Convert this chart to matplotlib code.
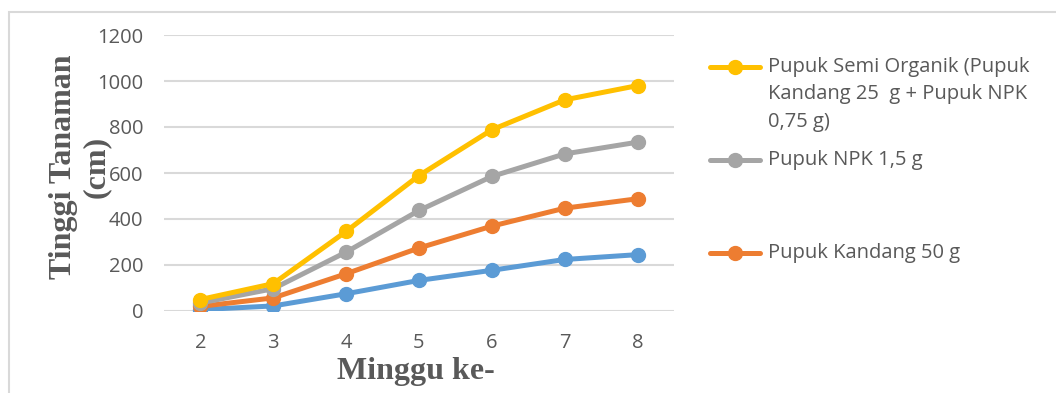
import matplotlib
matplotlib.use("Agg")
import matplotlib.pyplot as plt
from matplotlib.lines import Line2D
from matplotlib.patches import Rectangle

weeks = [2, 3, 4, 5, 6, 7, 8]
semi_organik = [50, 119, 346, 589, 788, 918, 980]
npk = [35, 97, 256, 437, 585, 683, 734]
kandang = [20, 57, 162, 274, 369, 447, 488]
kontrol = [6, 22, 75, 133, 177, 224, 245]

labels = ["Pupuk Semi Organik (Pupuk\nKandang 25  g + Pupuk NPK\n0,75 g)",
          "Pupuk NPK 1,5 g",
          "Pupuk Kandang 50 g"]
yticks = [0, 200, 400, 600, 800, 1000, 1200]

c_yellow = "#FFC000"
c_gray = "#A5A5A5"
c_orange = "#ED7D31"
c_blue = "#5B9BD5"
txt = "#595959"
sans = ["Open Sans", "DejaVu Sans"]

W, H = 1056, 393
fig = plt.figure(figsize=(W / 100, H / 100), dpi=100)

# light frame of the chart area
fig.patches.append(Rectangle((9 / W, -0.1), 1.2, 1 - 12 / H + 0.1, transform=fig.transFigure,
                             fill=False, edgecolor="#D9D9D9", linewidth=1.5))

ax = fig.add_axes([164 / W, 82 / H, 510 / W, 276 / H])
series = [(kontrol, c_blue), (kandang, c_orange), (npk, c_gray), (semi_organik, c_yellow)]
for vals, col in series:
    ax.plot(weeks, vals, color=col, linewidth=3.6, marker="o", markersize=10,
            solid_capstyle="round", zorder=3)

ax.set_xlim(1.5, 8.5)
ax.set_ylim(0, 1200)
ax.set_yticks(yticks)
ax.set_xticks(weeks)
ax.grid(axis="y", color="#D9D9D9", linewidth=1.5, zorder=0)
for s in ax.spines.values():
    s.set_visible(False)
ax.tick_params(length=0, labelcolor=txt, labelsize=14.5)
ax.tick_params(axis="y", pad=15)
ax.tick_params(axis="x", pad=16)
for lab in ax.get_xticklabels() + ax.get_yticklabels():
    lab.set_family(sans)

fig.text(416 / W, 1 - 371 / H, "Minggu ke-", ha="center", va="center",
         fontsize=23, fontweight="bold", family="Liberation Serif", color=txt)
fig.text(80 / W, 1 - 167 / H, "Tinggi Tanaman\n(cm)", ha="center", va="center",
         rotation=90, multialignment="center", fontsize=23, fontweight="bold",
         family="Liberation Serif", color=txt, linespacing=1.2)

# legend (blue series has no entry in the original)
leg_rows = [67, 160, 253]
for lab, (vals, col), yy in zip(labels, [series[3], series[2], series[1]], leg_rows):
    yf = 1 - yy / H
    fig.add_artist(Line2D([710 / W, 760 / W], [yf, yf], transform=fig.transFigure,
                          color=col, linewidth=3.6, solid_capstyle="round"))
    fig.add_artist(Line2D([735 / W], [yf], transform=fig.transFigure, color=col,
                          marker="o", markersize=10, linestyle="none"))
    fig.text(768 / W, 1 - (yy - 10) / H, lab, ha="left", va="top", fontsize=14.5,
             family=sans, color=txt, linespacing=1.5, transform=fig.transFigure)

fig.savefig("out.png", dpi=100)
